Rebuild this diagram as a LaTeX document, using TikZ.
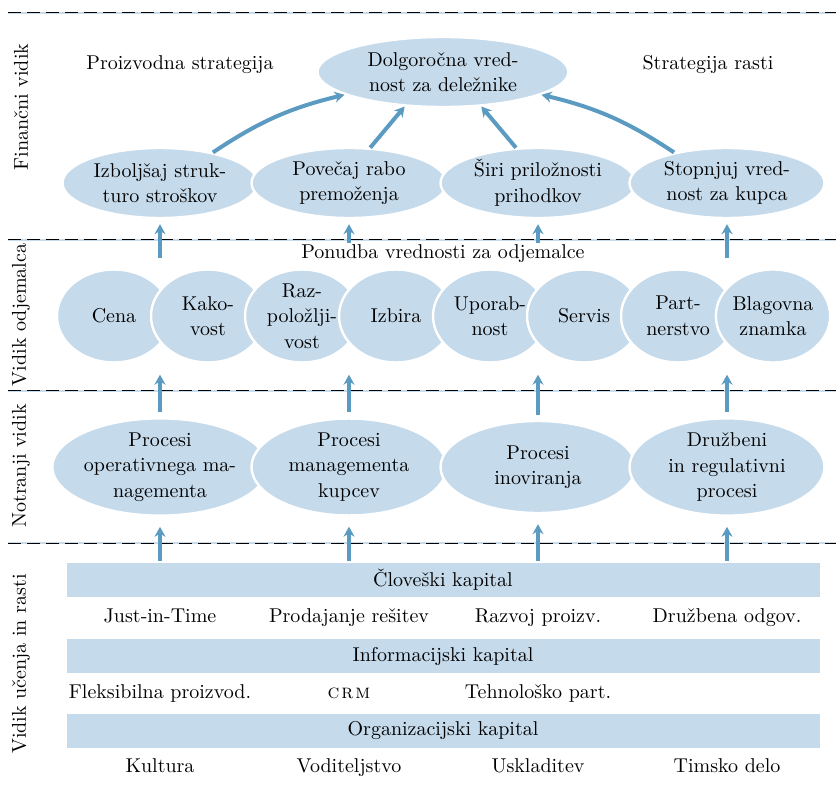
\documentclass[tikz,border=0pt]{standalone}
\usepackage{tikz}
\usetikzlibrary{shapes.geometric, arrows.meta, calc}
\definecolor{fillColor}{HTML}{C5DAEB}
\definecolor{arrowColor}{HTML}{5B9BC2}
\definecolor{lineColor}{HTML}{C9DCEC}

\begin{document}
\begin{tikzpicture}[x=0.5pt, y=-0.5pt, font=\fontsize{10}{12.75}\selectfont,
    bubble/.style={ellipse, fill=fillColor, draw=white, line width=1.2pt, inner sep=0pt, align=center},
    finbox/.style={bubble, minimum width=97.5pt, minimum height=35pt},
    custbox/.style={bubble, minimum width=57pt, minimum height=46.5pt},
    procbox/.style={bubble, minimum width=97.5pt, minimum height=46pt},
    capbar/.style={rectangle, fill=fillColor, minimum width=376.5pt, minimum height=17pt, inner sep=0pt},
    uparrow/.style={-{Stealth[length=5pt, width=5.5pt]}, arrowColor, line width=2pt},
    sidelabel/.style={rotate=90},
    sepglow/.style={lineColor, line width=1.2pt},
    sepline/.style={black, line width=0.5pt, dash pattern=on 6.3pt off 3.2pt}]
    \useasboundingbox (0,0) rectangle (836,786);

    \foreach \y in {13, 240, 391, 543} {
        \draw[sepglow] (8,\y) -- (836,\y);
        \draw[sepline] (8,\y) -- (836,\y);
    }

    \node[sidelabel] (finlab) at (21,107) {Finančni vidik};
    \node[sidelabel] (custlab) at (21,315) {Vidik odjemalca};
    \node[sidelabel] (proclab) at (21,466) {Notranji vidik};
    \node[sidelabel] (learnlab) at (21,664) {Vidik učenja in rasti};

    \node[anchor=base] (prodstrat) at (180,70) {Proizvodna strategija};
    \node[anchor=base] (growstrat) at (708,70) {Strategija rasti};
    \node[finbox, minimum width=125.5pt] (value) at (443,72) {Dolgoročna vred-\\nost za deležnike};

    \node[finbox] (fin1) at (160,183) {Izboljšaj struk-\\turo stroškov};
    \node[finbox] (fin2) at (349,183) {Povečaj rabo\\premoženja};
    \node[finbox] (fin3) at (538,183) {Širi priložnosti\\prihodkov};
    \node[finbox] (fin4) at (727,183) {Stopnjuj vred-\\nost za kupca};

    \draw[uparrow] (fin1.30) to[bend left=10] (value.193);
    \draw[uparrow] (fin2.59) -- (value.222);
    \draw[uparrow] (fin3.122) -- (value.318);
    \draw[uparrow] (fin4.150) to[bend right=10] (value.347);

    \node[anchor=base, inner sep=0pt] (offer) at (443,259) {Ponudba vrednosti za odjemalce};

    \node[custbox] (cust1) at (114,316) {Cena};
    \node[custbox] (cust2) at (208,316) {Kako-\\vost};
    \node[custbox] (cust3) at (302,316) {Raz-\\položlji-\\vost};
    \node[custbox] (cust4) at (396,316) {Izbira};
    \node[custbox] (cust5) at (490,316) {Uporab-\\nost};
    \node[custbox] (cust6) at (584,316) {Servis};
    \node[custbox] (cust7) at (678,316) {Part-\\nerstvo};
    \node[custbox] (cust8) at (773,316) {Blagovna\\znamka};

    \draw[uparrow, shorten <=5pt, shorten >=2.5pt] (cust1.north -| fin1) -- (fin1.south);
    \draw[uparrow, shorten <=1pt, shorten >=2.5pt] (offer.north -| fin2) -- (fin2.south);
    \draw[uparrow, shorten <=1pt, shorten >=2.5pt] (offer.north -| fin3) -- (fin3.south);
    \draw[uparrow, shorten <=5pt, shorten >=2.5pt] (cust8.north -| fin4) -- (fin4.south);

    \node[procbox] (proc1) at (160,467) {Procesi\\operativnega ma-\\nagementa};
    \node[procbox] (proc2) at (349,467) {Procesi\\managementa\\kupcev};
    \node[procbox] (proc3) at (538,467) {Procesi\\inoviranja};
    \node[procbox] (proc4) at (727,467) {Družbeni\\in regulativni\\procesi};

    \draw[uparrow, shorten <=2.5pt, shorten >=5.5pt] (proc1.north) -- (proc1.north |- cust1.south);
    \draw[uparrow, shorten <=2.5pt, shorten >=5.5pt] (proc2.north) -- (proc2.north |- cust3.south);
    \draw[uparrow, shorten <=2.5pt, shorten >=5.5pt] (proc3.north) -- (proc3.north |- cust5.south);
    \draw[uparrow, shorten <=2.5pt, shorten >=5.5pt] (proc4.north) -- (proc4.north |- cust8.south);

    \node[capbar] (human) at (443,580) {Človeški kapital};
    \node[capbar] (info) at (443,656) {Informacijski kapital};
    \node[capbar] (org) at (443,731) {Organizacijski kapital};

    \draw[uparrow, shorten <=1pt, shorten >=5pt] (human.north -| proc1) -- (proc1.south);
    \draw[uparrow, shorten <=1pt, shorten >=5pt] (human.north -| proc2) -- (proc2.south);
    \draw[uparrow, shorten <=1pt, shorten >=5pt] (human.north -| proc3) -- (proc3.south);
    \draw[uparrow, shorten <=1pt, shorten >=5pt] (human.north -| proc4) -- (proc4.south);

    \node[anchor=base] (skill1) at (160,622) {Just-in-Time};
    \node[anchor=base] (skill2) at (349,622) {Prodajanje rešitev};
    \node[anchor=base] (skill3) at (538,622) {Razvoj proizv.};
    \node[anchor=base] (skill4) at (727,622) {Družbena odgov.};

    \node[anchor=base] (sys1) at (160,698) {Fleksibilna proizvod.};
    \node[anchor=base] (sys2) at (349,698) {\textsc{c\kern1pt r\kern1pt m}};
    \node[anchor=base] (sys3) at (538,698) {Tehnološko part.};

    \node[anchor=base] (cult1) at (160,772) {Kultura};
    \node[anchor=base] (cult2) at (349,772) {Voditeljstvo};
    \node[anchor=base] (cult3) at (538,772) {Uskladitev};
    \node[anchor=base] (cult4) at (727,772) {Timsko delo};
\end{tikzpicture}
\end{document}
